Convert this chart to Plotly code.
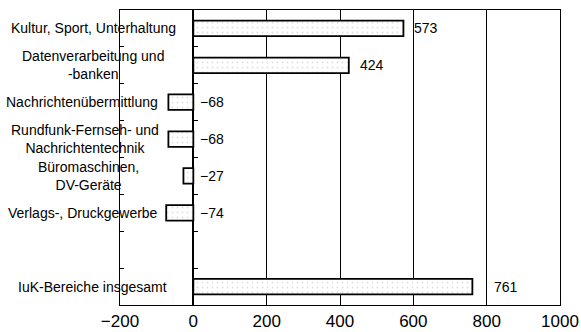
import plotly.graph_objects as go

categories = [
    "Kultur, Sport, Unterhaltung",
    "Datenverarbeitung und<br>-banken",
    "Nachrichtenübermittlung",
    "Rundfunk-Fernseh- und<br>Nachrichtentechnik",
    "Büromaschinen,<br>DV-Geräte",
    "Verlags-, Druckgewerbe",
    "IuK-Bereiche insgesamt",
]
values = [573, 424, -68, -68, -27, -74, 761]
positions = [0, 1, 2, 3, 4, 5, 7]
x_ticks = [-200, 0, 200, 400, 600, 800, 1000]
x_range = [-200, 1000]

# label centre positions (pixels from left edge of figure)
label_center_px = [93, 93, 82, 85, 88, 83, 92]

W, H = 581, 332
ML, MR, MT, MB = 120, 21, 10, 27
PW = W - ML - MR

FONT = "Liberation Sans, Arial, sans-serif"
sep_ticks = [0.5, 1.5, 2.5, 3.5, 4.5, 5.5, 6.5]

fig = go.Figure()
fig.add_trace(go.Bar(
    x=values, y=positions, orientation="h", width=0.42,
    marker=dict(color="white", line=dict(color="black", width=1.8),
                pattern=dict(shape=".", fgcolor="#c0c0c0", bgcolor="white", size=5, solidity=0.1)),
    hoverinfo="skip",
))
# empty helper trace so the zero-line tick axis is drawn
fig.add_trace(go.Scatter(x=[None], y=[None], yaxis="y2", mode="markers",
                         hoverinfo="skip", showlegend=False))

annotations = []
for cat, pos, cx in zip(categories, positions, label_center_px):
    annotations.append(dict(
        text=cat, x=(cx - ML) / PW, xref="paper", y=pos, yref="y",
        xanchor="center", yanchor="middle", align="center", showarrow=False,
        font=dict(family=FONT, size=14, color="black"),
    ))
for v, pos in zip(values, positions):
    annotations.append(dict(
        text=f"{v}".replace("-", "\u2212"), x=max(v, 0), xref="x", y=pos, yref="y",
        xanchor="left", yanchor="middle", xshift=(20 if v > 700 else 9) if v > 0 else 5,
        showarrow=False,
        font=dict(family=FONT, size=14, color="black"),
    ))

zero_pos = (0 - x_range[0]) / (x_range[1] - x_range[0])

fig.update_layout(
    width=W, height=H,
    margin=dict(l=ML, r=MR, t=MT, b=MB, autoexpand=False),
    paper_bgcolor="white", plot_bgcolor="white",
    showlegend=False,
    annotations=annotations,
    xaxis=dict(
        range=x_range, tickvals=x_ticks,
        ticktext=[str(t).replace("-", "\u2212") for t in x_ticks],
        showgrid=True, gridcolor="black", gridwidth=1,
        zeroline=True, zerolinecolor="black", zerolinewidth=1.6,
        showline=True, linecolor="black", linewidth=1.2, mirror=True,
        ticks="", tickfont=dict(family=FONT, size=17, color="black"),
        automargin=False, fixedrange=True,
    ),
    yaxis=dict(
        range=[7.5, -0.5], tickvals=sep_ticks,
        showticklabels=False, ticks="inside", ticklen=4, tickcolor="black",
        showgrid=False, zeroline=False,
        showline=True, linecolor="black", linewidth=1.2, mirror=True,
        automargin=False, fixedrange=True,
    ),
    yaxis2=dict(
        overlaying="y", anchor="free", position=zero_pos, side="right",
        range=[7.5, -0.5], tickvals=sep_ticks,
        showticklabels=False, ticks="outside", ticklen=4, tickcolor="black",
        showgrid=False, zeroline=False, showline=False,
        automargin=False, fixedrange=True,
    ),
)

fig.write_html(
    "out.html",
    config={"displayModeBar": False},
    post_script="document.body.style.margin='0';document.body.style.overflow='hidden';",
)
